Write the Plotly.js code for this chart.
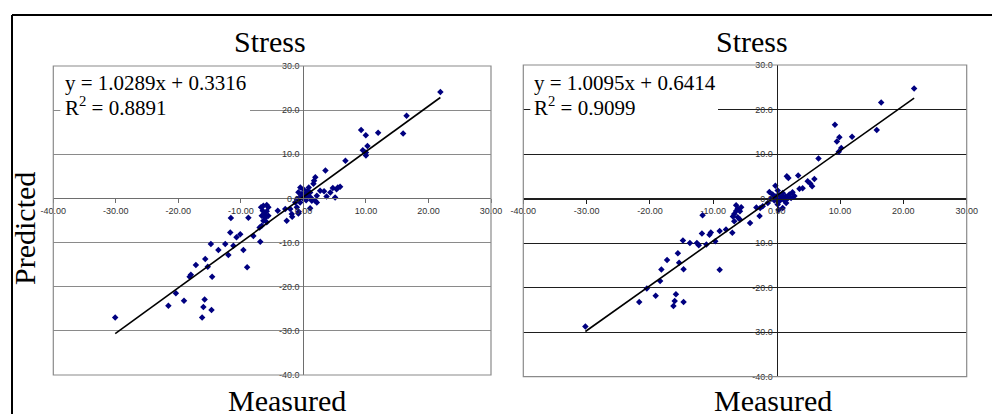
<!DOCTYPE html>
<html>
<head>
<meta charset="utf-8">
<script src="https://cdn.plot.ly/plotly-3.0.1.min.js"></script>
<style>
  html, body { margin: 0; padding: 0; background: #fff; }
  #chart { width: 992px; height: 414px; }
</style>
</head>
<body>
<div id="chart"></div>
<script>
// ---- Data: measured vs predicted stress, model A (left) ----
const measuredA = [
  21.9, 16.5, 15.95, 11.95, 9.23, 9.98, 10.24, 9.5, 10.0, 10.0, 6.72, 3.52,
  1.9, 1.7, 1.6, 5.5, 5.3, 4.7, 4.3, 3.7, 5.07, 2.67, 2.14, 1.87, 1.3, 1.07,
  5.87, 3.3, 2.14, 1.34, 1.07,
  -0.5, 0.0, -0.8, -0.26, 0.27, 0.53, 0.8, -0.64, -1.06, 0.0, 0.43, -1.3,
  -0.53, 0.85, 0.64, -0.3, 0.2,
  1.07, -0.74, -1.8, -2.67, -2.9, -1.06, -0.8, -1.86, -2.1, -4.1,
  -6.77, -6.4, -5.86, -5.6, -6.5, -5.86, -6.2, -6.66, -6.1, -5.6, -6.4, -5.86,
  -6.66, -7.0,
  -8.8, -11.6, -11.7, -10.1, -10.7, -8.0, -6.9,
  -12.5, -11.2, -9.6, -13.6, -14.8, -12.0, -15.7, -17.2, -15.3, -9.0,
  -30.1, -21.6, -19.1, -20.4, -18.2, -18.0, -14.6, -15.8, -16.0, -16.2, -14.7
];
const predictedA = [
  24.1, 18.75, 14.7, 14.9, 15.5, 14.3, 11.9, 10.9, 10.4, 9.7, 8.55, 6.3,
  4.8, 4.0, 3.3, 2.5, 2.1, 2.35, 1.36, 0.45, 0.23, 1.75, 0.6, -0.5, 0.0, 1.36,
  2.65, 1.6, -0.9, -0.5, 0.2,
  2.5, 2.1, 1.4, 1.0, 1.0, 1.36, 0.6, 0.2, -0.15, -0.15, -0.4, -0.9,
  -0.9, 2.5, 1.7, 0.5, 0.3,
  -2.2, -3.0, -4.15, -5.06, -2.4, -2.0, -3.4, -3.5, -2.4, -2.8,
  -2.0, -1.65, -1.5, -2.0, -2.8, -2.9, -3.5, -3.9, -4.45, -3.9, -5.06, -5.4,
  -6.2, -6.6,
  -4.4, -4.45, -7.7, -8.1, -8.8, -8.5, -9.8,
  -10.3, -10.7, -11.7, -11.7, -10.3, -12.8, -13.7, -15.1, -15.5, -15.6,
  -27.0, -24.3, -23.2, -21.5, -17.75, -17.3, -17.75, -22.9, -24.6, -27.0, -25.3
];

// ---- Data: measured vs predicted stress, model B (right) ----
const measuredB = [
  21.7, 16.5, 15.8, 11.9, 9.2, 9.9, 9.5, 10.2, 9.8, 6.6, 3.4, 1.6, 1.85, 5.95,
  4.9, 5.3, 5.6, 4.1, 3.6, 2.5, -0.2, 0.16,
  -0.63, -0.1, 0.43, 0.95, -0.88, -0.36, 0.43, 1.2, 1.74, 2.27, 1.5, 0.16,
  -1.4, -2.2, 0.95, -1.15, 2.0, 0.3, 0.95, -2.6, -2.7, -4.2, -3.2, -0.5, 0.6,
  1.4, 2.8,
  -6.4, -6.15, -6.4, -6.7, -5.8, -5.6, -6.15, -6.7, -5.8, -6.9,
  -11.7,
  -8.0, -7.0, -9.0, -10.4, -10.6, -11.8,
  -13.7, -14.8, -12.3, -12.6, -11.1, -9.7,
  -15.6, -17.3, -15.4, -18.2, -14.7, -9.0,
  -30.2, -21.7, -19.1, -20.5, -18.4, -16.3, -16.1, -15.9, -14.7
];
const predictedB = [
  24.7, 21.6, 15.4, 13.9, 16.6, 13.8, 12.8, 11.35, 10.5, 9.0, 5.2, 5.0, 4.6, 4.4,
  3.9, 3.4, 2.75, 2.3, 2.2, 1.4, 2.9, 1.8,
  0.9, 0.5, 0.74, 0.3, 0.0, -0.45, -0.6, -0.45, 0.0, 0.13, -1.0, -1.35,
  -1.0, -1.7, 1.25, 1.5, 0.9, -2.5, -2.1, -2.1, -3.9, -5.5, -2.0, 0.1, 0.0,
  0.5, 0.6,
  -1.5, -2.25, -2.8, -3.45, -2.85, -1.95, -4.2, -5.1, -4.7, -4.0,
  -3.75,
  -6.95, -7.7, -7.3, -7.6, -8.1, -7.85,
  -9.95, -9.4, -10.5, -9.95, -10.3, -9.6,
  -12.3, -13.8, -14.4, -15.9, -15.85, -16.0,
  -28.7, -23.2, -21.8, -20.2, -18.5, -24.1, -23.0, -21.5, -23.25
];

// Linear fits reported for each model: [slope, intercept, R²]
const fitA = [1.0289, 0.3316, 0.8891];
const fitB = [1.0095, 0.6414, 0.9099];

const panelTitles = ["Stress", "Stress"];
const xAxisTitle = "Measured";
const yAxisTitle = "Predicted";
const axisRange = [-40, 30];

// tick positions and their printed labels (plain hyphen minus signs)
const tickValues = [-40, -30, -20, -10, 0, 10, 20, 30];
const xTickLabels = ["-40.00", "-30.00", "-20.00", "-10.00", "0.00", "10.00", "20.00", "30.00"];
const yTickLabels = ["-40.0", "-30.0", "-20.0", "-10.0", "0.0", "10.0", "20.0", "30.0"];

// ---- Layout geometry (pixels in a 992 x 414 page) ----
const W = 992, H = 414;
const px = v => v / W;
const py = v => 1 - v / H;

const panels = [
  { x0: 53.3, x1: 491.0, top: 66.0, bottom: 375.0, grid: "#8a8a8a", axis: "#6e6e6e", box: "#8a8a8a" },
  { x0: 523.3, x1: 966.7, top: 65.0, bottom: 376.7, grid: "#1e1e1e", axis: "#1e1e1e", box: "#8a8a8a" }
];

const tickFont = { family: "Liberation Sans, Arial, sans-serif", size: 9, color: "#333333" };
const serif = "Liberation Serif, 'Times New Roman', serif";

function fitLine(xs, fit) {
  const lo = Math.min(...xs), hi = Math.max(...xs);
  return { x: [lo, hi], y: [fit[0] * lo + fit[1], fit[0] * hi + fit[1]] };
}

const layout = {
  width: W, height: H,
  margin: { l: 0, r: 0, t: 0, b: 0, pad: 0 },
  paper_bgcolor: "#ffffff",
  plot_bgcolor: "rgba(0,0,0,0)",
  showlegend: false,
  shapes: [],
  annotations: []
};

panels.forEach((p, i) => {
  const n = i === 0 ? "" : "2";
  const xd = [px(p.x0), px(p.x1)];
  const yd = [py(p.bottom), py(p.top)];
  // paper position where the value 0 falls on each axis
  const frac = (0 - axisRange[0]) / (axisRange[1] - axisRange[0]);
  const xZero = xd[0] + frac * (xd[1] - xd[0]);
  const yZero = yd[0] + frac * (yd[1] - yd[0]);

  layout["xaxis" + n] = {
    domain: xd, range: axisRange,
    tickmode: "array", tickvals: tickValues, ticktext: xTickLabels,
    anchor: "free", position: yZero,
    showgrid: false, zeroline: false,
    showline: true, linecolor: p.axis, linewidth: 1,
    ticks: "outside", ticklen: 4, tickcolor: p.axis, tickwidth: 1,
    tickfont: tickFont, fixedrange: true
  };
  layout["yaxis" + n] = {
    domain: yd, range: axisRange,
    tickmode: "array", tickvals: tickValues, ticktext: yTickLabels,
    anchor: "free", position: xZero,
    showgrid: true, gridcolor: p.grid, gridwidth: 1, zeroline: false,
    showline: true, linecolor: p.axis, linewidth: 1,
    ticks: "", tickfont: tickFont, ticklabelstandoff: 2, fixedrange: true
  };

  // white panel behind the regression text (sits in an empty corner of the plot)
  const bx0 = p.x0 + 7, bx1 = i === 0 ? 250 : 718;
  layout.shapes.push({
    type: "rect", xref: "paper", yref: "paper",
    x0: px(bx0), x1: px(bx1), y0: py(118), y1: py(p.top + 2),
    fillcolor: "#ffffff", line: { width: 0 }, layer: "above"
  });
  // plot-area frame
  layout.shapes.push({
    type: "rect", xref: "paper", yref: "paper",
    x0: xd[0], x1: xd[1], y0: yd[0], y1: yd[1],
    line: { color: p.box, width: 1.2 }, layer: "above"
  });

  const fit = i === 0 ? fitA : fitB;
  const eqX = i === 0 ? 63 : 532;
  layout.annotations.push({
    xref: "paper", yref: "paper", x: px(eqX), y: py(83),
    xanchor: "left", yanchor: "middle", showarrow: false,
    text: "y = " + fit[0].toFixed(4) + "x + " + fit[1].toFixed(4),
    font: { family: serif, size: 21, color: "#000" }
  });
  layout.annotations.push({
    xref: "paper", yref: "paper", x: px(eqX), y: py(106),
    xanchor: "left", yanchor: "middle", showarrow: false,
    text: "R<sup>2</sup> = " + fit[2].toFixed(4),
    font: { family: serif, size: 21, color: "#000" }
  });

  // panel title and horizontal axis title
  layout.annotations.push({
    xref: "paper", yref: "paper", x: px(i === 0 ? 270 : 752), y: py(41),
    xanchor: "center", yanchor: "middle", showarrow: false,
    text: panelTitles[i], font: { family: serif, size: 30, color: "#000" }
  });
  layout.annotations.push({
    xref: "paper", yref: "paper", x: px(i === 0 ? 287 : 773), y: py(400),
    xanchor: "center", yanchor: "middle", showarrow: false,
    text: xAxisTitle, font: { family: serif, size: 30, color: "#000" }
  });
});

// shared vertical axis title
layout.annotations.push({
  xref: "paper", yref: "paper", x: px(24), y: py(229),
  xanchor: "center", yanchor: "middle", showarrow: false, textangle: -90,
  text: yAxisTitle, font: { family: serif, size: 30, color: "#000" }
});

// outer frame: left and top edges
layout.shapes.push({ type: "line", xref: "paper", yref: "paper",
  x0: px(12), x1: px(12), y0: 0, y1: py(15), line: { color: "#000", width: 2 } });
layout.shapes.push({ type: "line", xref: "paper", yref: "paper",
  x0: px(12), x1: 1, y0: py(15), y1: py(15), line: { color: "#000", width: 2 } });

const marker = { symbol: "diamond", size: 5, color: "#000080", line: { width: 0 } };
const trendStyle = { color: "#000000", width: 1.6 };
const lineA = fitLine(measuredA, fitA);
const lineB = fitLine(measuredB, fitB);

const traces = [
  { type: "scatter", mode: "markers", x: measuredA, y: predictedA, xaxis: "x", yaxis: "y", marker: marker, hoverinfo: "x+y" },
  { type: "scatter", mode: "lines", x: lineA.x, y: lineA.y, xaxis: "x", yaxis: "y", line: trendStyle, hoverinfo: "skip" },
  { type: "scatter", mode: "markers", x: measuredB, y: predictedB, xaxis: "x2", yaxis: "y2", marker: marker, hoverinfo: "x+y" },
  { type: "scatter", mode: "lines", x: lineB.x, y: lineB.y, xaxis: "x2", yaxis: "y2", line: trendStyle, hoverinfo: "skip" }
];

Plotly.newPlot("chart", traces, layout, { displayModeBar: false, staticPlot: true });
</script>
</body>
</html>
